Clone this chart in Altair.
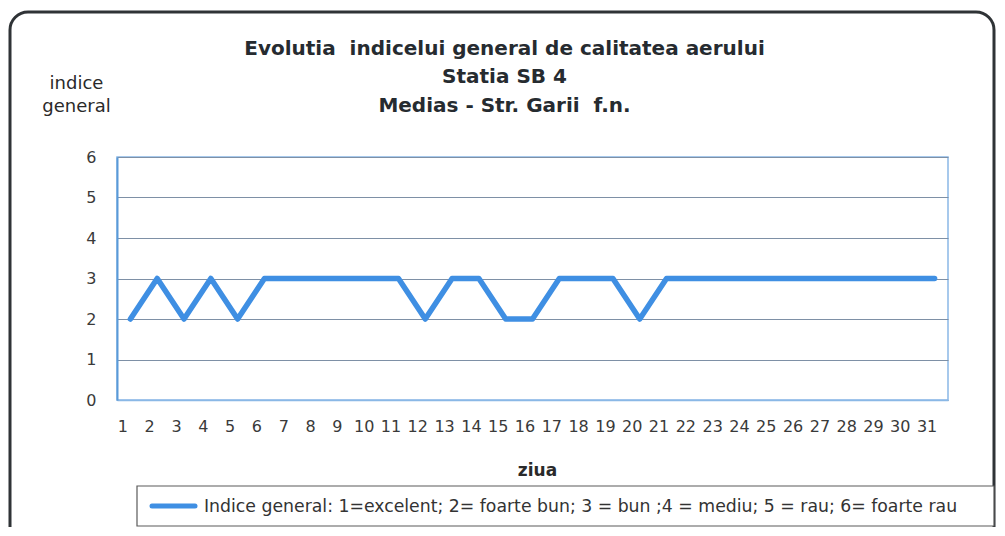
import altair as alt
import pandas as pd

days = [str(d) for d in range(1, 32)]
values = [2, 3, 2, 3, 2, 3, 3, 3, 3, 3, 3, 2, 3, 3, 2, 2, 3, 3, 3, 2,
          3, 3, 3, 3, 3, 3, 3, 3, 3, 3, 3]
series_name = "Indice general: 1=excelent; 2= foarte bun; 3 = bun ;4 = mediu; 5 = rau; 6= foarte rau"
y_ticks = [0, 1, 2, 3, 4, 5, 6]
title_lines = ["Evolutia\u00a0 indicelui general de calitatea aerului",
               "Statia SB 4",
               "Medias - Str. Garii\u00a0 f.n."]
y_title = ["indice", "general"]
x_title = "ziua"

df = pd.DataFrame({"ziua": days, "indice": values})
legend_df = pd.DataFrame({"serie": [series_name]})

FONT = "DejaVu Sans"
LINE_BLUE = "#3f8fe3"

# outer rounded frame
border = alt.Chart(alt.Data(values=[{"a": 1}])).mark_rect(
    filled=False, stroke="#2f3336", strokeWidth=3, cornerRadius=18
).encode(
    x=alt.value(-107), x2=alt.value(877),
    y=alt.value(-145), y2=alt.value(400),
)

line = alt.Chart(df).mark_line(
    strokeWidth=5.5, strokeJoin="round", strokeCap="round", color=LINE_BLUE
).encode(
    x=alt.X("ziua:O", sort=days,
            scale=alt.Scale(type="point", padding=0.5),
            axis=alt.Axis(title=x_title, labelAngle=0, ticks=False,
                          labelPadding=18, labelOffset=-8, labelFontSize=16,
                          labelColor="#3a3a3a", labelFont=FONT, domain=True,
                          domainColor="#8ab8e6", domainWidth=1.5, grid=False,
                          titleFont=FONT, titleFontSize=17, titleFontWeight="bold",
                          titleColor="#2a2a2a", titleX=420, titleY=75,
                          titleBaseline="alphabetic", titleAlign="center")),
    y=alt.Y("indice:Q",
            scale=alt.Scale(domain=[0, 6], nice=False, zero=True),
            axis=alt.Axis(values=y_ticks, format="d", ticks=False, labelPadding=21,
                          labelFontSize=16, labelColor="#3a3a3a", labelFont=FONT,
                          domain=True, domainColor="#5a9ad8", domainWidth=2,
                          grid=True, gridColor="#7e90a6", gridWidth=1.2,
                          title=y_title, titleFont=FONT, titleFontSize=18,
                          titleFontWeight="normal", titleColor="#2a2a2a",
                          titleAngle=0, titleAlign="center", titleBaseline="alphabetic",
                          titleX=-41, titleY=-69, titleLineHeight=23)),
)

# legend box, drawn by hand so it can be as wide as in the reference
legend_box = alt.Chart(legend_df).mark_rect(
    fill="white", stroke="#5a5a5a", strokeWidth=1.2
).encode(
    x=alt.value(20), x2=alt.value(877), y=alt.value(329), y2=alt.value(369),
)
legend_symbol = alt.Chart(legend_df).mark_rule(
    color=LINE_BLUE, strokeWidth=5, strokeCap="round"
).encode(
    x=alt.value(35), x2=alt.value(78), y=alt.value(349),
)
legend_text = alt.Chart(legend_df).mark_text(
    align="left", baseline="middle", font=FONT, fontSize=17.3, color="#333333"
).encode(
    x=alt.value(87), y=alt.value(349.5), text="serie:N",
)

chart = alt.layer(border, line, legend_box, legend_symbol, legend_text).properties(
    width=831, height=243,
    autosize=alt.AutoSizeParams(type="none"),
    padding={"left": 109, "top": 149, "right": 49, "bottom": 127},
    title=alt.TitleParams(text=title_lines, anchor="middle", dx=-28, fontSize=20,
                          fontWeight="bold", font=FONT, color="#262b30",
                          lineHeight=28.5, offset=0, dy=105),
    background="white",
).configure_view(stroke="#8ab8e6", strokeWidth=1.5)

chart.save("out.html", embed_options={"renderer": "svg", "actions": False})
